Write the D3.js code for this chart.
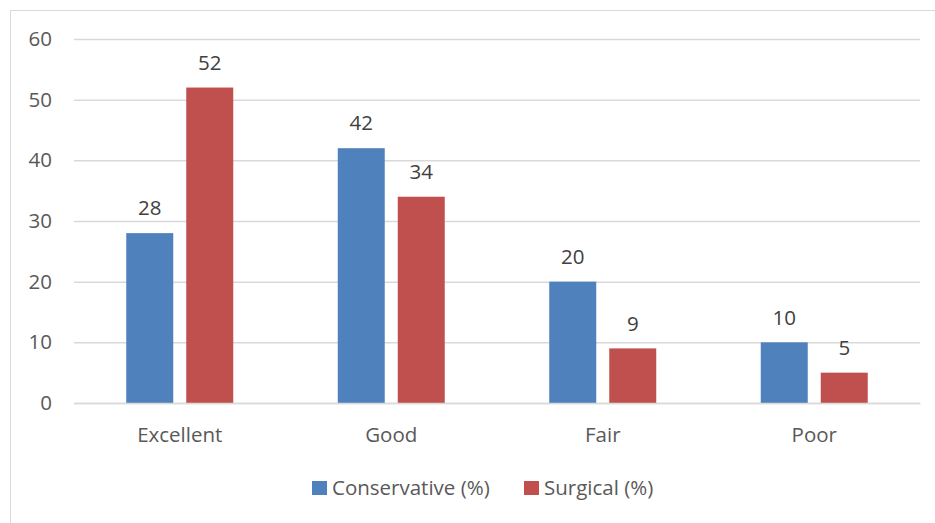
<!DOCTYPE html>
<html>
<head>
<meta charset="utf-8">
<script src="https://cdn.jsdelivr.net/npm/d3@7"></script>
<style>
  html, body { margin: 0; padding: 0; background: #fff; }
  svg text { font-family: "Open Sans", "Noto Sans", sans-serif; }
</style>
</head>
<body>
<svg id="chart" width="935" height="523"></svg>
<script>
const categories = ["Excellent", "Good", "Fair", "Poor"];
const seriesNames = ["Conservative (%)", "Surgical (%)"];
const conservative = [28, 42, 20, 10];
const surgical = [52, 34, 9, 5];
const yTicks = [0, 10, 20, 30, 40, 50, 60];
const colors = ["#4f81bd", "#c0504d"];

const svg = d3.select("#chart");
const W = 935, H = 523;
const plot = { left: 74, right: 920, top: 39, bottom: 403 };
const FS = "20.5px";

// chart frame
svg.append("rect")
  .attr("x", 10.5).attr("y", 10.5)
  .attr("width", W).attr("height", H)
  .attr("fill", "#fff").attr("stroke", "#d9d9d9").attr("stroke-width", 1);

const y = d3.scaleLinear().domain([0, 60]).range([plot.bottom, plot.top]);
const x0 = d3.scaleBand().domain(categories).range([plot.left, plot.right]).paddingInner(0).paddingOuter(0);
const x1 = d3.scaleBand().domain(seriesNames).range([0, x0.bandwidth()]).paddingInner(0.2167).paddingOuter(0.871);

// gridlines + value axis labels
const yAxis = d3.axisLeft(y).tickValues(yTicks).tickSize(-(plot.right - plot.left)).tickPadding(22);
const gy = svg.append("g").attr("transform", `translate(${plot.left},0)`).call(yAxis);
gy.select(".domain").remove();
gy.selectAll(".tick line").attr("stroke", "#d9d9d9").attr("stroke-width", 1.5);
gy.selectAll(".tick text").attr("fill", "#595959").style("font-size", FS).attr("text-anchor", "end");

const data = categories.map((c, i) => ({ cat: c, vals: [conservative[i], surgical[i]] }));

const groups = svg.append("g").selectAll("g").data(data).join("g")
  .attr("transform", d => `translate(${x0(d.cat)},0)`);

const pts = d => d.vals.map((v, j) => ({ v, s: seriesNames[j], j }));

groups.selectAll("rect").data(pts)
  .join("rect")
  .attr("x", d => x1(d.s))
  .attr("width", x1.bandwidth())
  .attr("y", d => y(d.v))
  .attr("height", d => y(0) - y(d.v))
  .attr("fill", d => colors[d.j]);

// value labels above bars
groups.selectAll("text.lbl").data(pts)
  .join("text").attr("class", "lbl")
  .attr("x", d => x1(d.s) + x1.bandwidth() / 2)
  .attr("y", d => y(d.v) - 25)
  .attr("dy", "0.35em")
  .attr("text-anchor", "middle")
  .attr("fill", "#404040")
  .style("font-size", FS)
  .text(d => d.v);

// category axis
const xAxis = d3.axisBottom(x0).tickSize(0).tickPadding(0);
const gx = svg.append("g").attr("transform", `translate(0,${plot.bottom})`).call(xAxis);
gx.select(".domain").attr("stroke", "#d9d9d9").attr("stroke-width", 1.5);
gx.selectAll(".tick text").attr("fill", "#595959").style("font-size", FS)
  .attr("y", 32).attr("dy", "0.35em");

// legend
const legend = svg.append("g").attr("transform", "translate(312,481)");
const items = [{ n: seriesNames[0], c: colors[0], x: 0 }, { n: seriesNames[1], c: colors[1], x: 212 }];
const li = legend.selectAll("g").data(items).join("g").attr("transform", d => `translate(${d.x},0)`);
li.append("rect").attr("width", 15).attr("height", 14).attr("fill", d => d.c);
li.append("text").attr("x", 20).attr("y", 7).attr("dy", "0.35em")
  .attr("fill", "#595959").style("font-size", FS).text(d => d.n);
</script>
</body>
</html>
